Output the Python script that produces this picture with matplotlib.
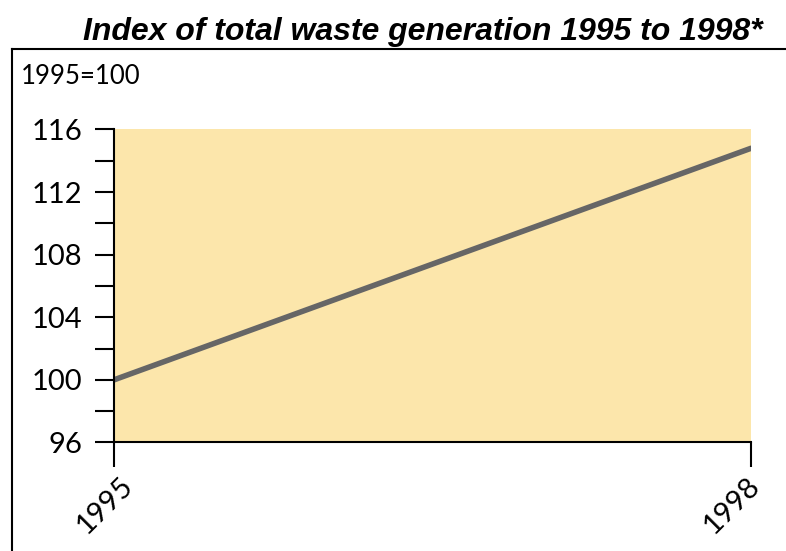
import matplotlib.pyplot as plt
from matplotlib.lines import Line2D
import matplotlib.transforms as mtransforms

years = [1995, 1998]
index = [100, 114.8]
yticks_major = [96, 100, 104, 108, 112, 116]
yticks_minor = [98, 102, 106, 110, 114]

fig = plt.figure(figsize=(7.86, 5.51), dpi=100)
ax = fig.add_axes([0.145, 0.197, 0.8105, 0.568])

ax.set_facecolor('#fce6ab')
ax.plot(years, index, color='#666666', lw=4, solid_capstyle='round')

ax.set_xlim(1995, 1998)
ax.set_ylim(96, 116)
ax.set_yticks(yticks_major)
ax.set_yticks(yticks_minor, minor=True)
ax.set_xticks(years)
ax.set_yticklabels([str(t) for t in yticks_major], fontsize=21, family='Lato')
ax.set_xticklabels([])

# rotated year labels, nudged left like the original
shifts = [-9, -19]
base = mtransforms.blended_transform_factory(ax.transData, ax.transAxes)
for yr, dx in zip(years, shifts):
    tr = base + mtransforms.ScaledTranslation(dx / 100, -30 / 100, fig.dpi_scale_trans)
    ax.text(yr, 0, str(yr), transform=tr, rotation=45, ha='center', va='top',
            fontsize=21, family='Lato', clip_on=False)

ax.tick_params(axis='y', which='both', length=13.7, width=1.5, pad=9, color='black')
ax.tick_params(axis='x', length=18, width=1.5, pad=4)

for s in ['top', 'right']:
    ax.spines[s].set_visible(False)
for s in ['left', 'bottom']:
    ax.spines[s].set_linewidth(1.5)

fig.text(0.538, 0.927, 'Index of total waste generation 1995 to 1998*',
         ha='center', va='baseline', fontsize=23, fontweight='bold',
         style='italic', family='Liberation Sans')
fig.text(0.027, 0.848, '1995=100', ha='left', va='baseline', fontsize=18.5,
         family='Lato')

fig.add_artist(Line2D([0.0153, 1.0], [0.911, 0.911], color='black', lw=1.5,
                      transform=fig.transFigure))
fig.add_artist(Line2D([0.0153, 0.0153], [0.0, 0.911], color='black', lw=1.5,
                      transform=fig.transFigure))

fig.savefig('out.png', dpi=100)
